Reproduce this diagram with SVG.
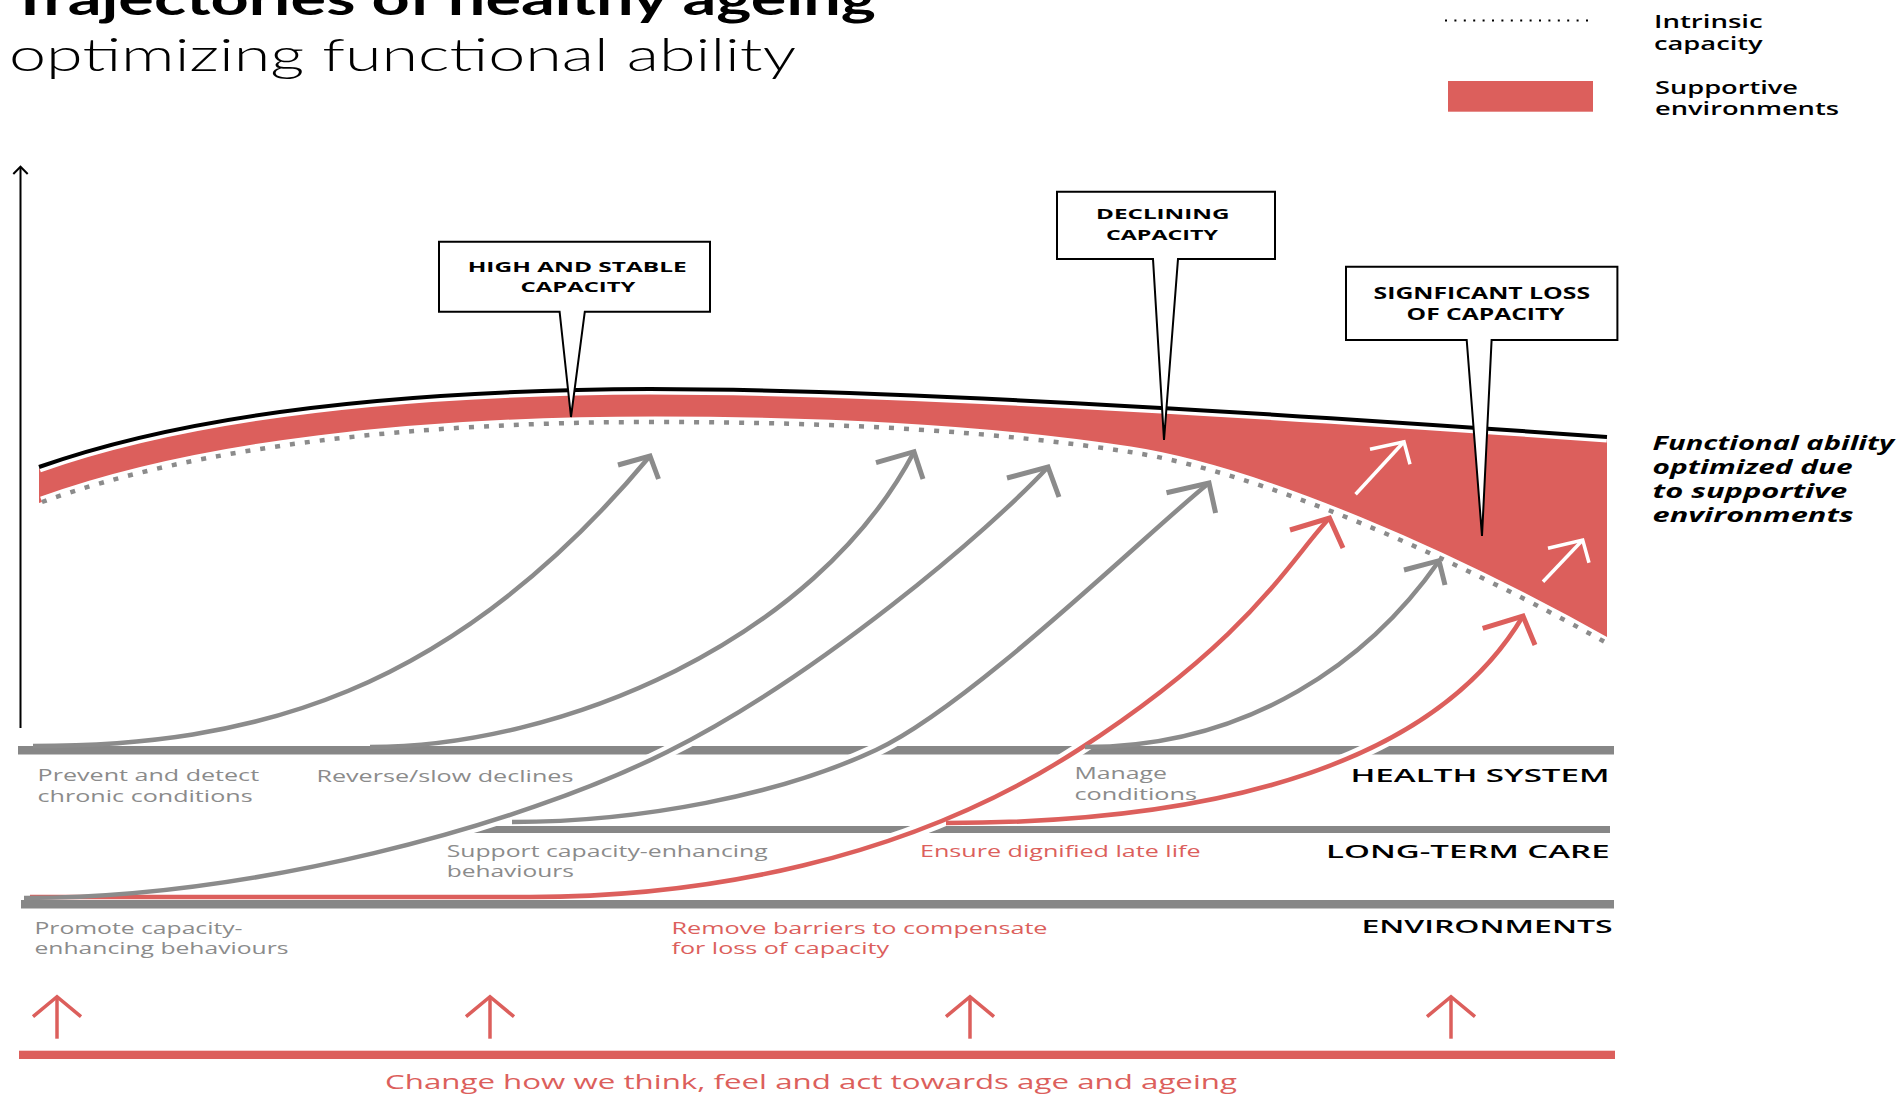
<svg xmlns="http://www.w3.org/2000/svg" width="1901" height="1095" viewBox="0 0 1901 1095">
<style>
.ttl{font-family:Lato,"Open Sans",sans-serif;font-weight:700;font-size:46px;fill:#000}
.sub{font-family:Lato,"Open Sans",sans-serif;font-weight:300;font-size:45px;fill:#000}
.leg{font-family:"Open Sans","Liberation Sans",sans-serif;font-weight:600;font-size:18px;fill:#000}
.co{font-family:"Open Sans","Liberation Sans",sans-serif;font-weight:700;font-size:14.5px;fill:#000}
.fa{font-family:"Open Sans","Liberation Sans",sans-serif;font-weight:700;font-style:italic;font-size:20px;fill:#000}
.gl{font-family:"Open Sans","Liberation Sans",sans-serif;font-size:16px;fill:#8b8b8b}
.rl{font-family:"Open Sans","Liberation Sans",sans-serif;font-size:16px;fill:#dc5f5c}
.cat{font-family:"Open Sans","Liberation Sans",sans-serif;font-weight:600;font-size:17.5px;fill:#000}
.bt{font-family:"Open Sans","Liberation Sans",sans-serif;font-size:20px;fill:#dc5f5c}
.box{fill:#fff;stroke:#000;stroke-width:2}
.bar{fill:#878787}
.g{fill:none;stroke:#8b8b8b;stroke-width:4.5}
.r{fill:none;stroke:#dc5f5c;stroke-width:4.5}
.gh{fill:none;stroke:#8b8b8b;stroke-width:5;stroke-linejoin:miter}
.rh{fill:none;stroke:#dc5f5c;stroke-width:5;stroke-linejoin:miter}
.halo{fill:none;stroke:#fff;stroke-width:13}
.wa{fill:none;stroke:#fff;stroke-width:3.5}
.ba{fill:none;stroke:#dc5f5c;stroke-width:3.5}
</style>
<defs>
<clipPath id="hsBand"><rect x="0" y="738" width="1901" height="24"/></clipPath>
<clipPath id="bothBands"><rect x="0" y="738" width="1901" height="24"/><rect x="0" y="818" width="1901" height="22"/></clipPath>
<clipPath id="fillClip"><rect x="39" y="300" width="1568" height="400"/></clipPath>
</defs>
<rect width="1901" height="1095" fill="#fff"/>

<g id="title">
<text class="ttl" x="10" y="15" textLength="866" lengthAdjust="spacingAndGlyphs">Trajectories of healthy ageing</text>
<text class="sub" x="9" y="71" textLength="787" lengthAdjust="spacingAndGlyphs">optimizing functional ability</text>
</g>

<g id="legend">
<line x1="1445" y1="20.5" x2="1588" y2="20.5" stroke="#000" stroke-width="2" stroke-dasharray="2 7.4"/>
<text class="leg" x="1654" y="27.7" textLength="108.7" lengthAdjust="spacingAndGlyphs">Intrinsic</text>
<text class="leg" x="1654" y="50" textLength="108.7" lengthAdjust="spacingAndGlyphs">capacity</text>
<rect x="1448" y="81" width="145" height="30.7" fill="#dc5f5c"/>
<text class="leg" x="1655" y="93.5" textLength="143" lengthAdjust="spacingAndGlyphs">Supportive</text>
<text class="leg" x="1655" y="115" textLength="184" lengthAdjust="spacingAndGlyphs">environments</text>
</g>

<g id="axis">
<line x1="20.5" y1="167" x2="20.5" y2="728" stroke="#000" stroke-width="2"/>
<polyline points="13.3,174 20.5,166.7 27.7,174" fill="none" stroke="#000" stroke-width="2"/>
</g>

<g id="functional-ability-band">
<path fill="#dc5f5c" clip-path="url(#fillClip)" d="M39,467 C200,410 420,390 650,389 C900,389 1300,415 1612,437 L1612,646 C1450,555 1260,472 1130,452 C1000,432 850,422 655,422 C420,422 200,445 42,502 L39,503 Z"/>
<path d="M42,502 C200,445 420,422 655,422 C850,422 1000,432 1130,452 C1260,472 1450,555 1612,646" fill="none" stroke="#fff" stroke-width="11"/>
<path d="M42,502 C200,445 420,422 655,422 C850,422 1000,432 1130,452 C1260,472 1450,555 1612,646" fill="none" stroke="#8b8b8b" stroke-width="4.5" stroke-dasharray="5 10"/>
<path d="M39,467 C200,410 420,390 650,389 C900,389 1300,415 1607,437" fill="none" stroke="#fff" stroke-width="11"/>
<path d="M39,467 C200,410 420,390 650,389 C900,389 1300,415 1607,437" fill="none" stroke="#000" stroke-width="4"/>
<g id="white-arrows">
<line class="wa" x1="1355.6" y1="494.3" x2="1404" y2="441.7"/>
<polyline class="wa" points="1370,449.3 1404,441.7 1410,464.3"/>
<line class="wa" x1="1543" y1="581.7" x2="1582.7" y2="540"/>
<polyline class="wa" points="1548,548.3 1582.7,540 1589,562.7"/>
</g>
</g>

<g id="bars">
<rect class="bar" x="18" y="746" width="1596" height="8.5"/>
<rect class="bar" x="470" y="826" width="1140" height="7"/>
<rect class="bar" x="21" y="900" width="1593" height="8.5"/>
</g>

<g id="connectors">
<g id="arrow-prevent">
<path class="g" d="M33,746 C250,746 450,696 650,456"/>
<polyline class="gh" points="618,465 650,456 658.5,479"/>
</g>
<g id="arrow-reverse">
<path class="g" d="M370,747 C560,747 814,642 914,452"/>
<polyline class="gh" points="876,462.7 914,451.7 923,479"/>
</g>
<g id="arrow-remove-barriers">
<path class="halo" clip-path="url(#bothBands)" d="M30,897 L530,897 C700,897 905,862 1078,750 S1290,560 1329.5,518"/>
<path class="r" d="M30,897 L530,897 C700,897 905,862 1078,750 S1290,560 1329.5,518"/>
<polyline class="rh" points="1290,530 1329.5,518 1343,548"/>
</g>
<g id="arrow-promote">
<path class="halo" clip-path="url(#bothBands)" d="M24,898 C250,898 517,827 667,752 S990,530 1048,467"/>
<path class="g" d="M24,898 C250,898 517,827 667,752 S990,530 1048,467"/>
<polyline class="gh" points="1007,478 1048,467 1059,497"/>
</g>
<g id="arrow-support">
<path class="halo" clip-path="url(#hsBand)" d="M512,822 C640,822 780,795 876,750 S1150,530 1209,483"/>
<path class="g" d="M512,822 C640,822 780,795 876,750 S1150,530 1209,483"/>
<polyline class="gh" points="1166.5,492.7 1209,483 1215.6,513"/>
</g>
<g id="arrow-manage">
<path class="g" d="M1085,747 C1250,747 1370,660 1439,561"/>
<polyline class="gh" points="1404,570 1439,560.7 1445,585"/>
</g>
<g id="arrow-ensure">
<path class="halo" clip-path="url(#hsBand)" d="M946,823 C1150,823 1420,790 1523,616"/>
<path class="r" d="M946,823 C1150,823 1420,790 1523,616"/>
<polyline class="rh" points="1482.7,628.3 1523,616 1535,645"/>
</g>
</g>

<g id="callout-high">
<path class="box" d="M439,241.7 H710 V311.7 H584.8 L571,417 L559.6,311.7 H439 Z"/>
<text class="co" x="467.7" y="271.7" textLength="219" lengthAdjust="spacingAndGlyphs">HIGH AND STABLE</text>
<text class="co" x="520.5" y="291.7" textLength="115" lengthAdjust="spacingAndGlyphs">CAPACITY</text>
</g>
<g id="callout-declining">
<path class="box" d="M1057,191.7 H1275 V259 H1178 L1164,440 L1153,259 H1057 Z"/>
<text class="co" x="1096" y="219.3" textLength="133.5" lengthAdjust="spacingAndGlyphs">DECLINING</text>
<text class="co" x="1106" y="240" textLength="112" lengthAdjust="spacingAndGlyphs">CAPACITY</text>
</g>
<g id="callout-loss">
<path class="box" d="M1346,266.7 H1617.4 V340 H1491.6 L1482,536 L1466.7,340 H1346 Z"/>
<text class="co" x="1373.6" y="299.3" textLength="216.5" lengthAdjust="spacingAndGlyphs" style="font-size:15.5px">SIGNFICANT LOSS</text>
<text class="co" x="1406.6" y="320" textLength="158" lengthAdjust="spacingAndGlyphs" style="font-size:15.5px">OF CAPACITY</text>
</g>

<g id="functional-ability-label">
<text class="fa" x="1652.6" y="450" textLength="241.5" lengthAdjust="spacingAndGlyphs">Functional ability</text>
<text class="fa" x="1652.6" y="474" textLength="200" lengthAdjust="spacingAndGlyphs">optimized due</text>
<text class="fa" x="1652.6" y="498" textLength="194.7" lengthAdjust="spacingAndGlyphs">to supportive</text>
<text class="fa" x="1652.6" y="522" textLength="201" lengthAdjust="spacingAndGlyphs">environments</text>
</g>

<g id="labels">
<text class="gl" x="37.6" y="780.7" textLength="221.5" lengthAdjust="spacingAndGlyphs">Prevent and detect</text>
<text class="gl" x="37.6" y="801.7" textLength="215" lengthAdjust="spacingAndGlyphs">chronic conditions</text>
<text class="gl" x="316.4" y="781.7" textLength="257" lengthAdjust="spacingAndGlyphs">Reverse/slow declines</text>
<text class="gl" x="446.7" y="857.3" textLength="321" lengthAdjust="spacingAndGlyphs">Support capacity-enhancing</text>
<text class="gl" x="446.7" y="876.7" textLength="127.3" lengthAdjust="spacingAndGlyphs">behaviours</text>
<text class="gl" x="34.5" y="934" textLength="208" lengthAdjust="spacingAndGlyphs">Promote capacity-</text>
<text class="gl" x="34.5" y="954" textLength="254" lengthAdjust="spacingAndGlyphs">enhancing behaviours</text>
<text class="gl" x="1074.4" y="779.3" textLength="92.6" lengthAdjust="spacingAndGlyphs">Manage</text>
<text class="gl" x="1074.4" y="800" textLength="122.6" lengthAdjust="spacingAndGlyphs">conditions</text>
<text class="rl" x="671.5" y="934" textLength="376" lengthAdjust="spacingAndGlyphs">Remove barriers to compensate</text>
<text class="rl" x="671.5" y="954" textLength="217.5" lengthAdjust="spacingAndGlyphs">for loss of capacity</text>
<text class="rl" x="920" y="857" textLength="280.6" lengthAdjust="spacingAndGlyphs">Ensure dignified late life</text>
</g>

<g id="categories">
<text class="cat" x="1350.5" y="781.7" textLength="259" lengthAdjust="spacingAndGlyphs">HEALTH SYSTEM</text>
<text class="cat" x="1326" y="858.3" textLength="283.6" lengthAdjust="spacingAndGlyphs">LONG-TERM CARE</text>
<text class="cat" x="1361.4" y="933.3" textLength="251.2" lengthAdjust="spacingAndGlyphs">ENVIRONMENTS</text>
</g>

<g id="attitudes">
<line class="ba" x1="57" y1="1038.7" x2="57" y2="998"/>
<polyline class="ba" points="33,1016.7 57,996.7 81,1016.7"/>
<line class="ba" x1="490" y1="1038.7" x2="490" y2="998"/>
<polyline class="ba" points="466,1016.7 490,996.7 514,1016.7"/>
<line class="ba" x1="970" y1="1038.7" x2="970" y2="998"/>
<polyline class="ba" points="946,1016.7 970,996.7 994,1016.7"/>
<line class="ba" x1="1451" y1="1038.7" x2="1451" y2="998"/>
<polyline class="ba" points="1427,1016.7 1451,996.7 1475,1016.7"/>
<rect x="19" y="1050.7" width="1596" height="8.3" fill="#dc5f5c"/>
<text class="bt" x="385" y="1089" textLength="852" lengthAdjust="spacingAndGlyphs">Change how we think, feel and act towards age and ageing</text>
</g>
</svg>
